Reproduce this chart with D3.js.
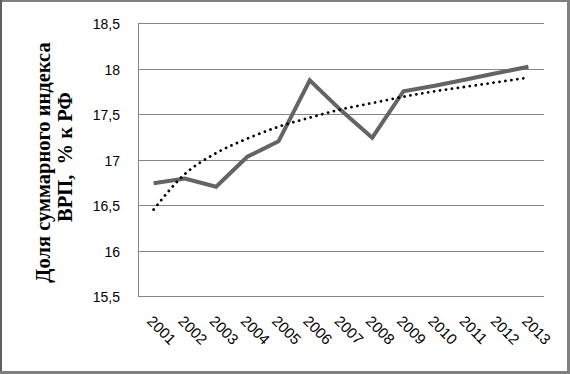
<!DOCTYPE html>
<html>
<head>
<meta charset="utf-8">
<script src="https://cdn.jsdelivr.net/npm/d3@7"></script>
<style>
  html, body { margin: 0; padding: 0; background: #fff; }
  svg { display: block; }
</style>
</head>
<body>
<svg id="chart" width="570" height="374"></svg>
<script>
const years = ["2001","2002","2003","2004","2005","2006","2007","2008","2009","2010","2011","2012","2013"];
const shareValues = [16.74, 16.79, 16.70, 17.03, 17.20, 17.87, 17.54, 17.24, 17.75, 17.81, 17.88, 17.95, 18.02];
const trendValues = [16.45, 16.84, 17.07, 17.23, 17.36, 17.46, 17.55, 17.62, 17.69, 17.75, 17.80, 17.85, 17.90];
const yTicks = [15.5, 16, 16.5, 17, 17.5, 18, 18.5];
const yTitleLines = ["Доля суммарного индекса", "ВРП,  % к РФ"];

const W = 570, H = 374;
const plot = { left: 138, right: 544, top: 23, bottom: 296 };

const svg = d3.select("#chart");

// outer frame
svg.append("rect").attr("x", 0).attr("y", 0).attr("width", W).attr("height", H).attr("fill", "#fff");
svg.append("rect").attr("x", 0).attr("y", 0).attr("width", W).attr("height", 2).attr("fill", "#808080");
svg.append("rect").attr("x", 0).attr("y", 0).attr("width", 2).attr("height", H).attr("fill", "#5f5f5f");
svg.append("rect").attr("x", 567).attr("y", 0).attr("width", 3).attr("height", H).attr("fill", "#808080");
svg.append("rect").attr("x", 0).attr("y", 371).attr("width", W).attr("height", 3).attr("fill", "#808080");

const x = d3.scaleBand().domain(years).range([plot.left, plot.right]).padding(0);
const cx = d => x(d) + x.bandwidth() / 2;
const y = d3.scaleLinear().domain([15.5, 18.5]).range([plot.bottom, plot.top]);

// gridlines
const grid = svg.append("g")
  .attr("transform", `translate(${plot.left},0)`)
  .call(d3.axisLeft(y).tickValues(yTicks).tickSize(-(plot.right - plot.left)).tickFormat(""));
grid.select(".domain").remove();
grid.selectAll(".tick line").attr("stroke", "#868686").attr("stroke-width", 1)
  .attr("shape-rendering", "crispEdges");

// y axis line
svg.append("line")
  .attr("x1", plot.left + 0.5).attr("x2", plot.left + 0.5)
  .attr("y1", y(18.5)).attr("y2", y(15.5))
  .attr("stroke", "#868686").attr("stroke-width", 1).attr("shape-rendering", "crispEdges");

// y labels
const yAxis = svg.append("g")
  .attr("transform", `translate(${plot.left},0)`)
  .call(d3.axisLeft(y).tickValues(yTicks).tickSize(0).tickPadding(18)
    .tickFormat(d => String(d).replace(".", ",")));
yAxis.select(".domain").remove();
yAxis.selectAll("text")
  .attr("font-family", "'Liberation Sans', Arial, sans-serif")
  .attr("font-size", 14).attr("fill", "#000").attr("dy", "0.4em");

// x labels
const xAxis = svg.append("g")
  .attr("transform", `translate(0,${plot.bottom})`)
  .call(d3.axisBottom(x).tickSize(0).tickFormat(d => d));
xAxis.select(".domain").remove();
xAxis.selectAll(".tick text")
  .attr("font-family", "'Liberation Sans', Arial, sans-serif")
  .attr("font-size", 15).attr("fill", "#000")
  .attr("text-anchor", "start")
  .attr("y", 0).attr("dy", 0)
  .attr("transform", "translate(-7.5,26) rotate(45)");

// data line
const line = d3.line().x((d, i) => cx(years[i])).y(d => y(d));
svg.append("path")
  .datum(shareValues)
  .attr("d", line)
  .attr("fill", "none")
  .attr("stroke", "#646464")
  .attr("stroke-width", 4)
  .attr("stroke-linejoin", "miter");

// trend line
const trend = d3.line().x((d, i) => cx(years[i])).y(d => y(d)).curve(d3.curveMonotoneX);
svg.append("path")
  .datum(trendValues)
  .attr("d", trend)
  .attr("fill", "none")
  .attr("stroke", "#000")
  .attr("stroke-width", 2.8)
  .attr("stroke-linecap", "round")
  .attr("stroke-dasharray", "0.01 6");

// y title
const title = svg.append("g").attr("font-family", "'Liberation Serif', 'Times New Roman', serif")
  .attr("font-weight", "bold").attr("font-size", 20.5).attr("fill", "#000");
const titlePos = [{ bx: 50, cy: 162.5 }, { bx: 72, cy: 157 }];
yTitleLines.forEach((t, i) => {
  title.append("text")
    .attr("transform", `translate(${titlePos[i].bx},${titlePos[i].cy}) rotate(-90)`)
    .attr("text-anchor", "middle")
    .style("white-space", "pre")
    .text(t);
});
</script>
</body>
</html>
